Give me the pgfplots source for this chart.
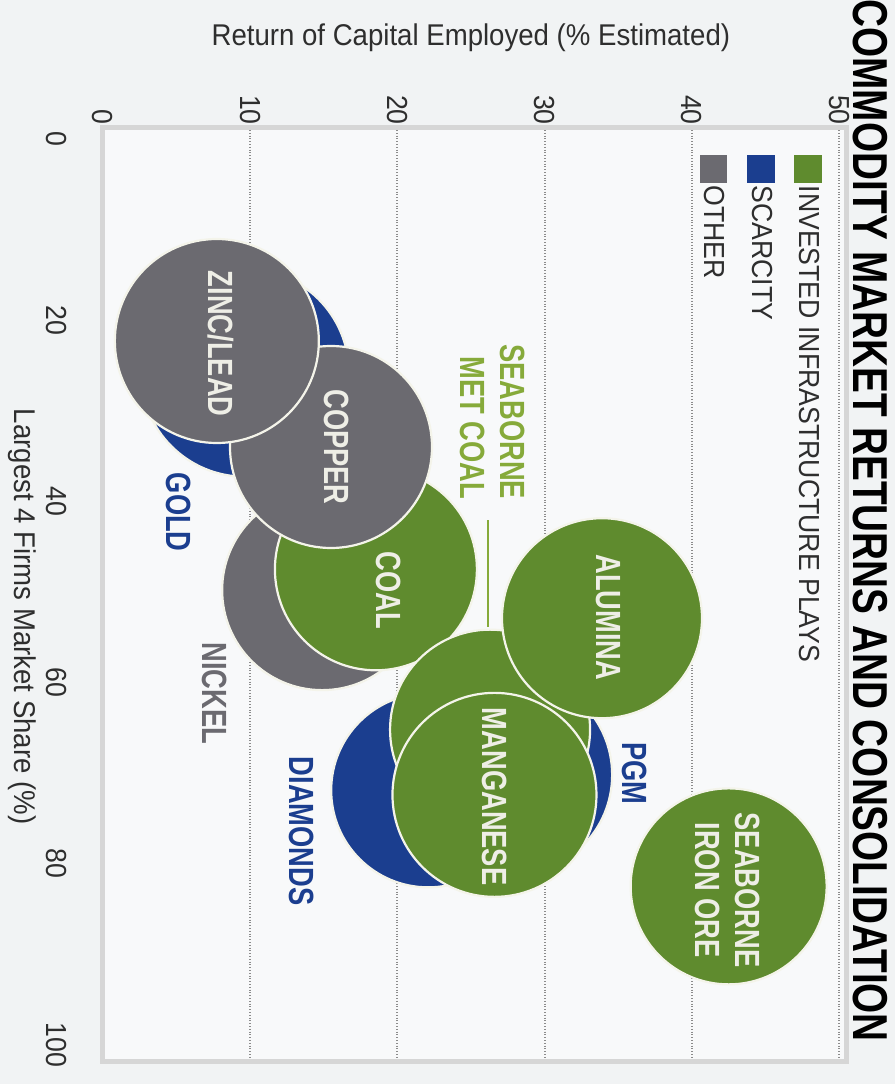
\documentclass[border=0pt]{standalone}
\usepackage{pgfplots}
\pgfplotsset{compat=1.18}
\usepackage{fontspec}
\setmainfont{Liberation Sans}
\newfontfamily\narrowfont{Liberation Sans}[FakeStretch=0.92]
\newfontfamily\condfont{Liberation Sans}[FakeStretch=0.78]
\newfontfamily\titlefont{Liberation Sans}[FakeStretch=0.79]

\definecolor{cgreen}{HTML}{5F8B2E}
\definecolor{cblue}{HTML}{1B3E8F}
\definecolor{cgray}{HTML}{6B6A70}
\definecolor{lgreen}{HTML}{86AA3A}
\definecolor{ring}{HTML}{F4F4EA}
\definecolor{lbl}{HTML}{EEEEE6}
\definecolor{pagebg}{HTML}{F1F3F4}
\definecolor{plotbg}{HTML}{F8F9FA}
\definecolor{framec}{HTML}{D6D6D6}
\definecolor{gridc}{HTML}{8C8C8C}
\definecolor{tickc}{HTML}{2E2E2E}

\pgfplotsset{
  bub/.style 2 args={only marks, mark=*, mark size=#2,
    mark options={fill=#1, draw=ring, line width=1.1pt}, forget plot},
}
\tikzset{
  blab/.style={font=\fontsize{17.5}{20}\condfont\bfseries, text=lbl, inner sep=0pt, align=center},
  olab/.style={font=\fontsize{17.5}{20}\condfont\bfseries, inner sep=0pt, align=center},
}

\begin{document}
\begin{tikzpicture}[rotate=-90, transform shape]
\fill[pagebg] (-63.6pt,-51.35pt) rectangle (478.4pt,396pt);
\begin{axis}[
  at={(0pt,0pt)}, anchor=south west,
  scale only axis, width=467pt, height=371.9pt,
  xmin=-1.3, xmax=101.8, ymin=0, ymax=50.5,
  xtick={0,20,40,60,80,100}, ytick={0,10,20,30,40,50},
  major tick length=0pt,
  axis line style={draw=framec, line width=2.5pt},
  axis background/.style={fill=plotbg},
  ymajorgrids, grid style={gridc, densely dotted, line width=1pt},
  /pgf/number format/assume math mode=true,
  tick label style={font=\fontsize{14.5}{16}\narrowfont, text=tickc},
  xticklabel style={yshift=-14.6pt},
  yticklabel style={inner sep=1pt},
  xlabel={Largest 4 Firms Market Share (\%)},
  ylabel={Return of Capital Employed (\% Estimated)},
  label style={font=\fontsize{15}{17}\narrowfont, text=tickc},
  xlabel style={at={(axis description cs:0.524,-0.1085)}, anchor=center},
  ylabel style={at={(axis description cs:-0.0955,0.495)}, anchor=center},
  legend style={at={(axis cs:1.7,48.9)}, anchor=north west, draw=none, fill=none,
    font=\fontsize{14.5}{16}\narrowfont, text=tickc, row sep=9pt, inner sep=0pt,
    nodes={inner sep=1.5pt}},
  legend cell align=left,
  legend image code/.code={\fill[#1] (0pt,-6.7pt) rectangle (13.5pt,6.7pt);},
  clip=false,
  % labels go on last, over the bubbles
  after end axis/.code={
    \node[blab] at (axis cs:22.6,8.0) {ZINC/LEAD};
    \node[blab] at (axis cs:34.0,15.9) {COPPER};
    \node[blab] at (axis cs:49.8,19.4) {COAL};
    \node[blab] at (axis cs:52.8,34.3) {ALUMINA};
    \node[blab] at (axis cs:72.6,26.6) {MANGANESE};
    \node[blab] at (axis cs:82.9,42.45) {SEABORNE\\IRON ORE};
    \node[olab, text=cblue] at (axis cs:41.2,5.15) {GOLD};
    \node[olab, text=cgray] at (axis cs:61.2,7.6) {NICKEL};
    \node[olab, text=cblue] at (axis cs:76.4,13.5) {DIAMONDS};
    \node[olab, text=cblue] at (axis cs:70.0,36.1) {PGM};
    \node[olab, text=lgreen, anchor=east, align=right] at (axis cs:39.8,26.5) {SEABORNE\\MET COAL};
  },
]
\addlegendimage{cgreen}
\addlegendentry{INVESTED INFRASTRUCTURE PLAYS}
\addlegendimage{cblue}
\addlegendentry{SCARCITY}
\addlegendimage{cgray}
\addlegendentry{OTHER}

% bubbles, back to front: (market share, ROCE), radius
\addplot[bub={cgray}{50pt}]   coordinates {(49.8,14.9)};  % nickel
\addplot[bub={cblue}{52pt}]   coordinates {(25.8,9.66)};  % gold
\addplot[bub={cblue}{48.5pt}] coordinates {(71.9,22.1)};  % diamonds
\addplot[bub={cblue}{50pt}]   coordinates {(70.2,27.8)};  % pgm
\addplot[bub={cgreen}{50.5pt}] coordinates {(47.5,18.55)}; % coal
\addplot[bub={cgray}{50.5pt}] coordinates {(34.0,15.5)};  % copper
\addplot[bub={cgray}{51pt}]   coordinates {(22.3,7.75)};  % zinc/lead
\addplot[lgreen, line width=1.2pt, forget plot] coordinates {(42.1,26.15) (53.9,26.15)};
\addplot[bub={cgreen}{50pt}]  coordinates {(65.2,26.3)};  % seaborne met coal
\addplot[bub={cgreen}{50pt}]  coordinates {(52.9,33.9)};  % alumina
\addplot[bub={cgreen}{51pt}]  coordinates {(72.4,26.6)};  % manganese
\addplot[bub={cgreen}{49pt}]  coordinates {(82.5,42.5)};  % seaborne iron ore
\end{axis}
\node[anchor=base west, inner sep=0pt, font=\fontsize{24.5}{26}\titlefont\bfseries]
  at (-64pt,375.2pt) {COMMODITY MARKET RETURNS AND CONSOLIDATION};
\pgfresetboundingbox
\path[use as bounding box] (-63.6pt,-51.35pt) rectangle (478.4pt,396pt);
\end{tikzpicture}
\end{document}
